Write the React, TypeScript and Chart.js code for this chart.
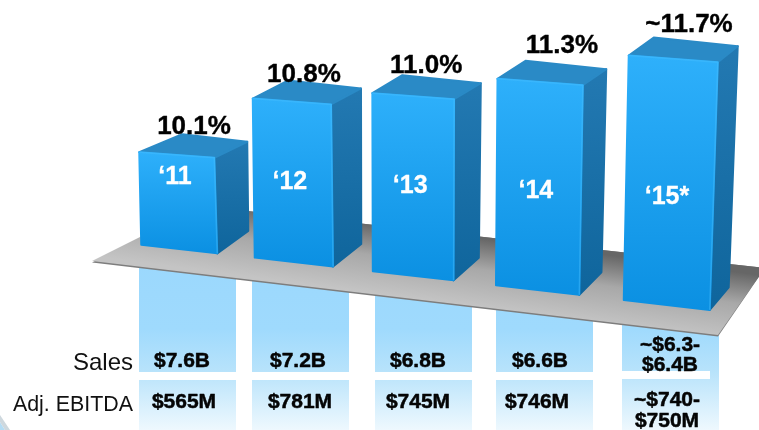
import React, { useEffect, useRef } from "react";
import { Chart, BarController, BarElement, CategoryScale, LinearScale } from "chart.js";

const categories = ["‘11", "‘12", "‘13", "‘14", "‘15*"];
const margins = [10.1, 10.8, 11.0, 11.3, 11.7];
const marginLabels = ["10.1%", "10.8%", "11.0%", "11.3%", "~11.7%"];
const salesLabels = [["$7.6B"], ["$7.2B"], ["$6.8B"], ["$6.6B"], ["~$6.3-", "$6.4B"]];
const ebitdaLabels = [["$565M"], ["$781M"], ["$745M"], ["$746M"], ["~$740-", "$750M"]];
const rowLabels = ["Sales", "Adj. EBITDA"];

const FONT = '"Liberation Sans", Arial, sans-serif';
const SKEW = 0.1138;
const X0 = 178;
const STEP = 123;
const LEAN = [-2.5, -2, 0, 2.5, 6.5];
const BACK_LEFT_DX = [43, 35, 30, 28, 25];
const MARGIN_DX = [16, 11, 13, 23, 19];
const MARGIN_DY = [20, 18.6, 22, 28, 26];
const BAND_LEFT = [139, 252, 375, 496, 622];
const BAND_W = 97;
const SALES_X = [182, 298, 418, 540, 670];
const EBITDA_X = [184, 300, 418, 537, 667];

const warp = (x: number) => {
  const t = (x - X0) / STEP;
  return x - 2.7 * t * (4 - t);
};

class CuboidBar extends BarElement {
  static id = "cuboidBar";
  draw(ctx: CanvasRenderingContext2D) {
    const me: any = this;
    const i = Math.round((me.x - X0) / STEP);
    const cx = warp(me.x);
    const d = cx - X0;
    const skew = d * SKEW;
    const yT = me.y + skew + 1;
    const yB = me.base + skew;
    const wT = 75 + d * 0.0285;
    const wB = 76 + d * 0.0203;
    const lean = LEAN[i] / 2;
    const topC = cx + lean;
    const botC = cx - lean;
    const TL = [topC - wT / 2, yT - 0.075 * wT / 2];
    const TR = [topC + wT / 2, yT + 0.075 * wT / 2];
    const BL = [botC - wB / 2, yB - SKEW * wB / 2];
    const BR = [botC + wB / 2, yB + SKEW * wB / 2];
    const TRb = [TR[0] + 33 - d * 0.0265, TR[1] - 16];
    const BRb = [BR[0] + 31 - d * 0.0245, BR[1] - 22.5];
    const TLb = [TL[0] + BACK_LEFT_DX[i], TL[1] - 18];
    const poly = (pts: number[][], fill: any) => {
      ctx.beginPath();
      pts.forEach((p, k) => (k ? ctx.lineTo(p[0], p[1]) : ctx.moveTo(p[0], p[1])));
      ctx.closePath();
      ctx.fillStyle = fill;
      ctx.strokeStyle = fill;
      ctx.lineWidth = 2;
      ctx.lineJoin = "round";
      ctx.fill();
      ctx.stroke();
    };
    ctx.save();
    const side = ctx.createLinearGradient(0, TRb[1], 0, BR[1]);
    side.addColorStop(0, "#2379b2");
    side.addColorStop(1, "#0f659c");
    poly([TR, TRb, BRb, BR], side);
    poly([TL, TLb, TRb, TR], "#2a8ac6");
    const front = ctx.createLinearGradient(0, TL[1], 0, BR[1]);
    front.addColorStop(0, "#2eb0fb");
    front.addColorStop(1, "#0b90e2");
    poly([TL, TR, BR, BL], front);
    // soft bevel along the front face's upper and right edges
    ctx.beginPath();
    ctx.moveTo(TL[0], TL[1]);
    ctx.lineTo(TR[0], TR[1]);
    ctx.lineTo(BR[0], BR[1]);
    ctx.strokeStyle = "rgba(70,190,255,0.45)";
    ctx.lineWidth = 1.5;
    ctx.stroke();
    ctx.restore();
  }
}

class CuboidController extends BarController {
  static id = "cuboid";
  static defaults = { dataElementType: "cuboidBar" };
}

Chart.register(CuboidController, CuboidBar, CategoryScale, LinearScale);

const text = (ctx: CanvasRenderingContext2D, s: string, x: number, y: number, font: string, color: string, align: CanvasTextAlign = "center", weight = 0) => {
  ctx.font = font;
  ctx.fillStyle = color;
  ctx.textAlign = align;
  ctx.textBaseline = "alphabetic";
  ctx.fillText(s, x, y);
  if (weight) {
    ctx.strokeStyle = color;
    ctx.lineWidth = weight;
    ctx.lineJoin = "round";
    ctx.strokeText(s, x, y);
  }
};

const backdrop = {
  id: "backdrop",
  beforeDatasetsDraw(chart: any) {
    const ctx: CanvasRenderingContext2D = chart.ctx;
    ctx.save();
    // corner swoosh
    ctx.fillStyle = "#b4dcf4";
    ctx.beginPath();
    ctx.moveTo(0, 422);
    ctx.lineTo(5, 430);
    ctx.lineTo(0, 430);
    ctx.closePath();
    ctx.fill();
    ctx.fillStyle = "#ced8de";
    ctx.beginPath();
    ctx.moveTo(0, 415);
    ctx.lineTo(10, 430);
    ctx.lineTo(5, 430);
    ctx.lineTo(0, 422);
    ctx.closePath();
    ctx.fill();

    const band = ctx.createLinearGradient(0, 260, 0, 432);
    band.addColorStop(0, "#9bd8fd");
    band.addColorStop(0.4, "#9fdafd");
    band.addColorStop(0.65, "#b8e3fb");
    band.addColorStop(1, "#f0f9fe");
    ctx.fillStyle = band;
    BAND_LEFT.forEach((x, i) => {
      if (i === 4) {
        ctx.fillRect(x, 260, BAND_W, 170);
      } else {
        ctx.fillRect(x, 260, BAND_W, 112);
        ctx.fillRect(x, 380, BAND_W, 50);
      }
    });
    ctx.fillStyle = "#ffffff";
    ctx.fillRect(622, 371, 88, 8);

    text(ctx, rowLabels[0], 133, 370, `24px ${FONT}`, "#111111", "right");
    text(ctx, rowLabels[1], 133, 411, `21.4px ${FONT}`, "#111111", "right");
    const bold = `bold 21px ${FONT}`;
    salesLabels.forEach((lines, i) => {
      const ys = lines.length > 1 ? [351, 371] : [367];
      lines.forEach((s, k) => text(ctx, s, SALES_X[i], ys[k], bold, "#050505", "center", 0.5));
    });
    ebitdaLabels.forEach((lines, i) => {
      const ys = lines.length > 1 ? [406, 427] : [408];
      lines.forEach((s, k) => text(ctx, s, EBITDA_X[i], ys[k], bold, "#050505", "center", 0.5));
    });

    // tilted floor
    const floor = [[92, 261], [202, 206], [765, 268], [718, 335]];
    const path = (dy: number) => {
      ctx.beginPath();
      floor.forEach((p, k) => {
        const yy = p[1] + (k === 0 || k === 3 ? dy : 0);
        k ? ctx.lineTo(p[0], yy) : ctx.moveTo(p[0], yy);
      });
      ctx.closePath();
    };
    path(1.5);
    ctx.fillStyle = "#7d7d7d";
    ctx.fill();
    const g = ctx.createLinearGradient(434, 232, 425, 300);
    g.addColorStop(0, "#666666");
    g.addColorStop(0.45, "#a8a8a8");
    g.addColorStop(1, "#c4c4c4");
    path(0);
    ctx.fillStyle = g;
    ctx.fill();
    ctx.restore();
  },
  afterDatasetsDraw(chart: any) {
    const ctx: CanvasRenderingContext2D = chart.ctx;
    ctx.save();
    const bars = chart.getDatasetMeta(0).data;
    bars.forEach((bar: any, i: number) => {
      const cx = warp(bar.x);
      const skew = (cx - X0) * SKEW;
      text(ctx, marginLabels[i], cx + MARGIN_DX[i], bar.y + skew - MARGIN_DY[i], `bold 26px ${FONT}`, "#000000", "center", 0.4);
      text(ctx, categories[i], cx - 3, 184 + (cx - X0) * 0.04, `bold 25px ${FONT}`, "#ffffff", "center", 0.3);
    });
    ctx.restore();
  },
};

export default function App() {
  const ref = useRef<HTMLCanvasElement>(null);
  useEffect(() => {
    const chart = new Chart(ref.current as HTMLCanvasElement, {
      type: "cuboid" as any,
      data: {
        labels: categories,
        datasets: [{ data: margins, base: 9.1, clip: false, backgroundColor: "#1f9fee" } as any],
      },
      options: {
        responsive: false,
        animation: false,
        layout: { padding: { left: 116.5, right: 27.5, top: 0, bottom: 181 } },
        plugins: { legend: { display: false }, tooltip: { enabled: false } },
        scales: {
          x: { type: "category", display: false, grid: { display: false } },
          y: { type: "linear", display: false, min: 9.1, max: 11.72, grid: { display: false } },
        },
      } as any,
      plugins: [backdrop],
    });
    return () => chart.destroy();
  }, []);
  return (
    <canvas
      ref={ref}
      width={759}
      height={430}
      style={{ position: "fixed", left: 0, top: 0, width: 759, height: 430, display: "block", background: "#ffffff" }}
    />
  );
}
